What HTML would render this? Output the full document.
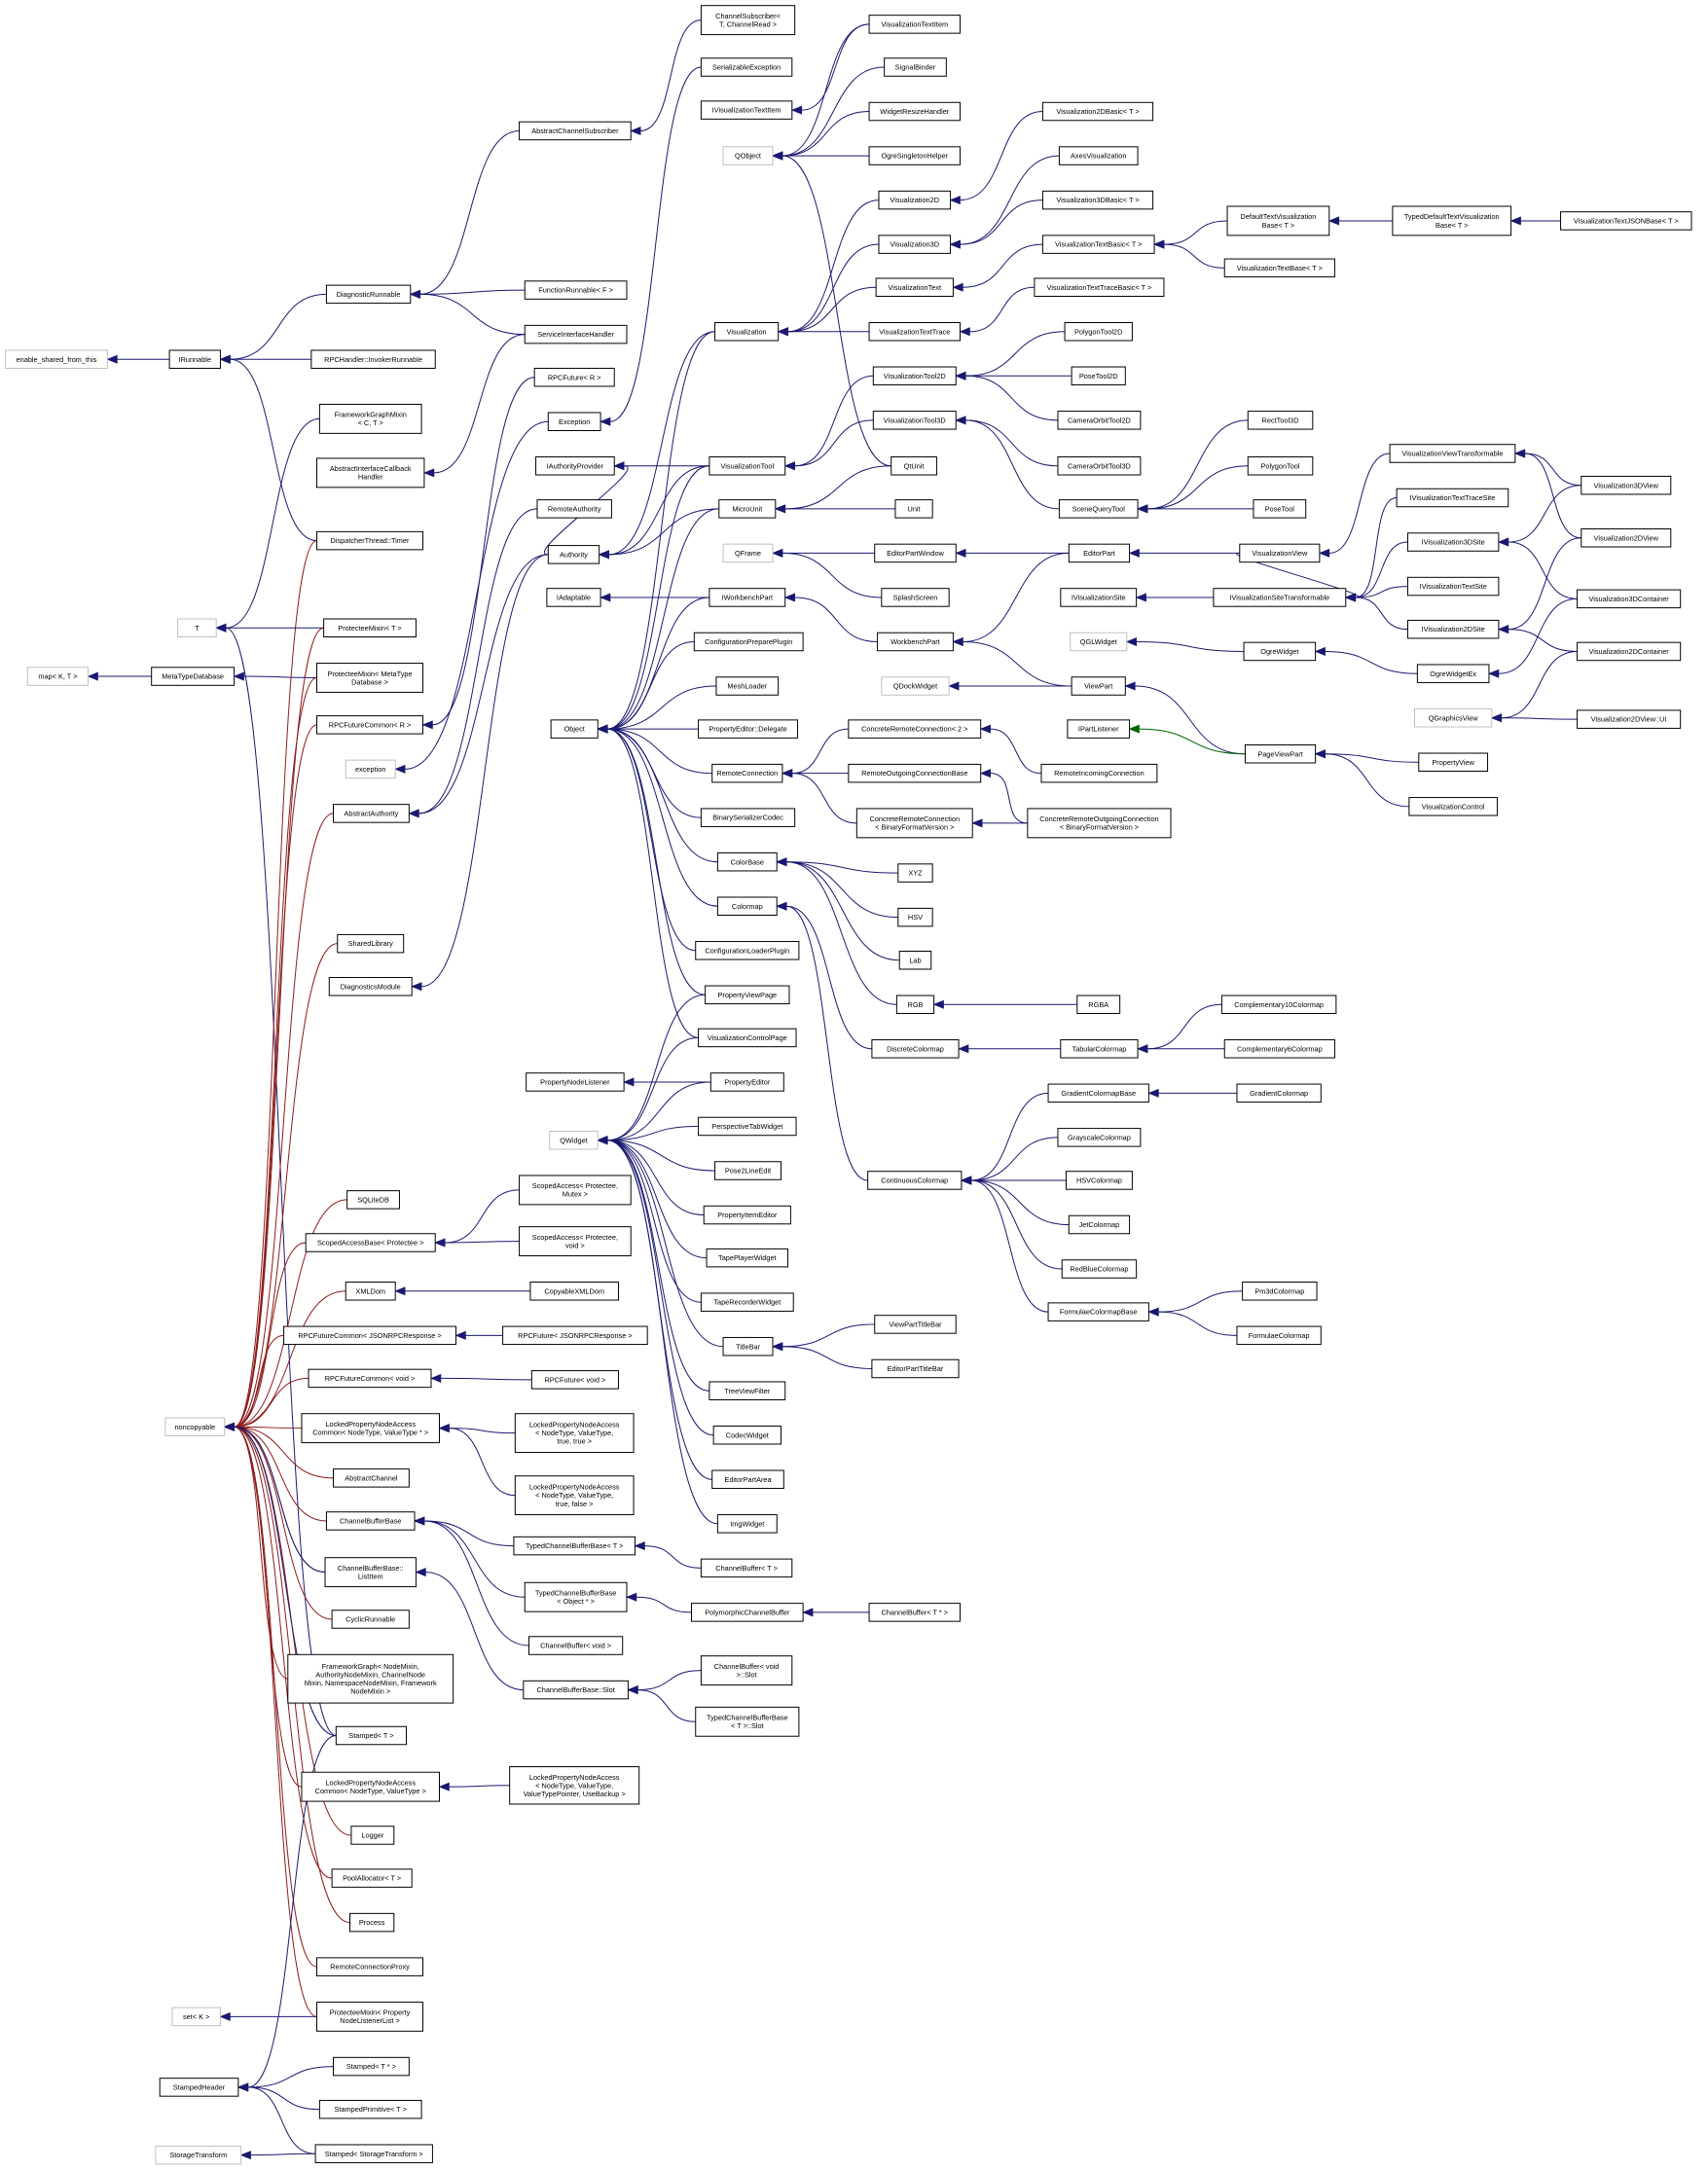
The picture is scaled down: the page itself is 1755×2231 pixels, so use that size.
<!DOCTYPE html>
<html><head><meta charset="utf-8"><style>
html,body{margin:0;padding:0;background:#fff;}
svg{display:block;}
text{font-family:"Liberation Sans",sans-serif;font-size:5.2px;fill:#000;}
</style></head><body>
<svg id="g" xmlns="http://www.w3.org/2000/svg" width="1755" height="2231" viewBox="0 0 1240 1568" preserveAspectRatio="none"></svg>
<script>
var N={};
function n(id,x1,y1,x2,y2,lines,gray){N[id]={x1:x1,y1:y1,x2:x2,y2:y2,l:lines,g:gray};}
n('esft',4,253,78,266,['enable_shared_from_this'],1);
n('IR',123,253,160,266,['IRunnable']);
n('map',20,482,64,495,['map< K, T >'],1);
n('MTD',110,482,170,495,['MetaTypeDatabase']);
n('T',129,447,157,460,['T'],1);
n('nc',120,1024,163,1037,['noncopyable'],1);
n('setK',125,1450,160,1463,['set< K >'],1);
n('SH',116,1501,173,1514,['StampedHeader']);
n('ST',113,1550,175,1563,['StorageTransform'],1);
n('DR',237,206,298,219,['DiagnosticRunnable']);
n('RPCH',226,253,316,266,['RPCHandler::InvokerRunnable']);
n('FGM',232,292,306,313,['FrameworkGraphMixin','< C, T >']);
n('AICH',230,331,308,352,['AbstractInterfaceCallback','Handler']);
n('DTT',230,384,307,397,['DispatcherThread::Timer']);
n('PMT',235,447,302,460,['ProtecteeMixin< T >']);
n('PMM',230,479,307,500,['ProtecteeMixin< MetaType','Database >']);
n('RFCR',230,517,307,530,['RPCFutureCommon< R >']);
n('exc',251,549,287,562,['exception'],1);
n('AA',242,581,297,594,['AbstractAuthority']);
n('SL',245,675,293,688,['SharedLibrary']);
n('DM',239,706,299,719,['DiagnosticsModule']);
n('SQL',252,860,290,873,['SQLiteDB']);
n('SAB',222,891,316,904,['ScopedAccessBase< Protectee >']);
n('XML',251,926,287,939,['XMLDom']);
n('RFCJ',206,958,331,971,['RPCFutureCommon< JSONRPCResponse >']);
n('RFCV',224,989,313,1002,['RPCFutureCommon< void >']);
n('LPC1',219,1021,319,1042,['LockedPropertyNodeAccess','Common< NodeType, ValueType * >']);
n('AC',242,1061,297,1074,['AbstractChannel']);
n('CBB',237,1092,301,1105,['ChannelBufferBase']);
n('CBLI',236,1125,302,1146,['ChannelBufferBase::','ListItem']);
n('CR',241,1163,297,1176,['CyclicRunnable']);
n('FG',209,1195,329,1230,['FrameworkGraph< NodeMixin,','AuthorityNodeMixin, ChannelNode','Mixin, NamespaceNodeMixin, Framework','NodeMixin >']);
n('STT',244,1247,295,1260,['Stamped< T >']);
n('LPC2',219,1280,319,1301,['LockedPropertyNodeAccess','Common< NodeType, ValueType >']);
n('LOG',255,1319,286,1332,['Logger']);
n('PA',241,1350,299,1363,['PoolAllocator< T >']);
n('PROC',254,1382,286,1395,['Process']);
n('RCP',230,1414,307,1427,['RemoteConnectionProxy']);
n('PMP',230,1446,307,1467,['ProtecteeMixin< Property','NodeListenerList >']);
n('STP',242,1486,297,1499,['Stamped< T * >']);
n('SPT',232,1517,306,1530,['StampedPrimitive< T >']);
n('SST',229,1549,314,1562,['Stamped< StorageTransform >']);
n('ACS',377,88,458,101,['AbstractChannelSubscriber']);
n('FR',381,203,455,216,['FunctionRunnable< F >']);
n('SIH',381,235,455,248,['ServiceInterfaceHandler']);
n('RFR',388,266,446,279,['RPCFuture< R >']);
n('EXC',398,298,436,311,['Exception']);
n('IAP',389,330,446,343,['IAuthorityProvider']);
n('RA',390,361,444,374,['RemoteAuthority']);
n('AUTH',398,394,435,407,['Authority']);
n('IAD',397,425,436,438,['IAdaptable']);
n('OBJ',400,520,434,533,['Object']);
n('PNL',382,775,453,788,['PropertyNodeListener']);
n('QW',399,817,434,830,['QWidget'],1);
n('SAM',377,849,458,870,['ScopedAccess< Protectee,','Mutex >']);
n('SAV',377,886,458,907,['ScopedAccess< Protectee,','void >']);
n('CXML',385,926,449,939,['CopyableXMLDom']);
n('RFJ',365,958,470,971,['RPCFuture< JSONRPCResponse >']);
n('RFV',386,990,449,1003,['RPCFuture< void >']);
n('LPTT',374,1021,460,1049,['LockedPropertyNodeAccess','< NodeType, ValueType,','true, true >']);
n('LPTF',374,1066,460,1094,['LockedPropertyNodeAccess','< NodeType, ValueType,','true, false >']);
n('TCBT',373,1110,461,1123,['TypedChannelBufferBase< T >']);
n('TCBO',381,1143,455,1164,['TypedChannelBufferBase','< Object * >']);
n('CBV',384,1182,452,1195,['ChannelBuffer< void >']);
n('CBBS',380,1214,456,1227,['ChannelBufferBase::Slot']);
n('LPVP',370,1276,464,1303,['LockedPropertyNodeAccess','< NodeType, ValueType,','ValueTypePointer, UseBackup >']);
n('CS',509,4,577,25,['ChannelSubscriber<','T, ChannelRead >']);
n('SE',509,42,575,55,['SerializableException']);
n('IVTI',509,73,575,86,['IVisualizationTextItem']);
n('QO',525,106,561,119,['QObject'],1);
n('VIS',519,233,565,246,['Visualization']);
n('VT',515,330,570,343,['VisualizationTool']);
n('MU',522,361,563,374,['MicroUnit']);
n('QF',525,393,561,406,['QFrame'],1);
n('IWP',515,425,570,438,['IWorkbenchPart']);
n('CPP',504,457,583,470,['ConfigurationPreparePlugin']);
n('ML',520,489,565,502,['MeshLoader']);
n('PED',507,520,579,533,['PropertyEditor::Delegate']);
n('RC',517,552,568,565,['RemoteConnection']);
n('BSC',509,584,577,597,['BinarySerializerCodec']);
n('CB',521,616,564,629,['ColorBase']);
n('CM',521,648,564,661,['Colormap']);
n('CLP',505,680,580,693,['ConfigurationLoaderPlugin']);
n('PVP',512,712,573,725,['PropertyViewPage']);
n('VCP',507,743,578,756,['VisualizationControlPage']);
n('PE',516,775,569,788,['PropertyEditor']);
n('PTW',507,807,578,820,['PerspectiveTabWidget']);
n('P2L',519,839,567,852,['Pose2LineEdit']);
n('PIE',511,871,574,884,['PropertyItemEditor']);
n('TPW',513,902,572,915,['TapePlayerWidget']);
n('TRW',509,934,576,947,['TapeRecorderWidget']);
n('TB',525,966,561,979,['TitleBar']);
n('TVF',515,998,570,1011,['TreeViewFilter']);
n('CW',518,1030,567,1043,['CodecWidget']);
n('EPA',517,1062,569,1075,['EditorPartArea']);
n('IW',521,1094,564,1107,['ImgWidget']);
n('CBT',509,1126,575,1139,['ChannelBuffer< T >']);
n('PCB',502,1158,583,1171,['PolymorphicChannelBuffer']);
n('CBVS',509,1196,575,1217,['ChannelBuffer< void','>::Slot']);
n('TCBS',505,1233,580,1254,['TypedChannelBufferBase','< T >::Slot']);
n('VTI',631,11,697,24,['VisualizationTextItem']);
n('SB',642,42,687,55,['SignalBinder']);
n('WRH',631,74,697,87,['WidgetResizeHandler']);
n('OSH',631,106,697,119,['OgreSingletonHelper']);
n('V2D',638,138,690,151,['Visualization2D']);
n('V3D',638,170,690,183,['Visualization3D']);
n('VTX',636,201,692,214,['VisualizationText']);
n('VTT',631,233,697,246,['VisualizationTextTrace']);
n('VT2',634,265,694,278,['VisualizationTool2D']);
n('VT3',634,297,694,310,['VisualizationTool3D']);
n('QTU',647,330,680,343,['QtUnit']);
n('UNIT',650,361,677,374,['Unit']);
n('EPW',635,393,694,406,['EditorPartWindow']);
n('SS',640,425,689,438,['SplashScreen']);
n('WP',637,457,692,470,['WorkbenchPart']);
n('QDW',640,489,689,502,['QDockWidget'],1);
n('CRC2',616,520,712,533,['ConcreteRemoteConnection< 2 >']);
n('ROCB',616,552,712,565,['RemoteOutgoingConnectionBase']);
n('CRCB',622,584,706,605,['ConcreteRemoteConnection','< BinaryFormatVersion >']);
n('XYZ',652,624,677,637,['XYZ']);
n('HSV',652,656,677,669,['HSV']);
n('LAB',653,687,676,700,['Lab']);
n('RGB',651,719,678,732,['RGB']);
n('DCM',633,751,696,764,['DiscreteColormap']);
n('CCM',630,846,698,859,['ContinuousColormap']);
n('VPTB',635,950,694,963,['ViewPartTitleBar']);
n('EPTB',633,982,696,995,['EditorPartTitleBar']);
n('CBTP',631,1158,697,1171,['ChannelBuffer< T * >']);
n('V2B',757,74,837,87,['Visualization2DBasic< T >']);
n('AXV',769,106,826,119,['AxesVisualization']);
n('V3B',757,138,837,151,['Visualization3DBasic< T >']);
n('VTB',757,170,838,183,['VisualizationTextBasic< T >']);
n('VTTB',751,201,845,214,['VisualizationTextTraceBasic< T >']);
n('PT2',773,233,822,246,['PolygonTool2D']);
n('PS2',778,265,817,278,['PoseTool2D']);
n('CO2',768,297,828,310,['CameraOrbitTool2D']);
n('CO3',768,330,828,343,['CameraOrbitTool3D']);
n('SQT',769,361,826,374,['SceneQueryTool']);
n('EP',776,393,820,406,['EditorPart']);
n('IVS',770,425,825,438,['IVisualizationSite']);
n('QGL',777,457,818,470,['QGLWidget'],1);
n('VP',778,489,817,502,['ViewPart']);
n('IPL',775,520,820,533,['IPartListener']);
n('RIC',756,552,840,565,['RemoteIncomingConnection']);
n('CROC',746,584,850,605,['ConcreteRemoteOutgoingConnection','< BinaryFormatVersion >']);
n('RGBA',782,719,813,732,['RGBA']);
n('TCM',770,751,826,764,['TabularColormap']);
n('GCB',761,783,834,796,['GradientColormapBase']);
n('GSC',768,815,828,828,['GrayscaleColormap']);
n('HSVC',774,846,822,859,['HSVColormap']);
n('JET',776,878,820,891,['JetColormap']);
n('RBC',771,910,825,923,['RedBlueColormap']);
n('FCB',761,941,834,954,['FormulaeColormapBase']);
n('DTVB',891,149,965,170,['DefaultTextVisualization','Base< T >']);
n('VTXB',889,187,969,200,['VisualizationTextBase< T >']);
n('RT3',906,297,953,310,['RectTool3D']);
n('PLT',906,330,953,343,['PolygonTool']);
n('PST',910,361,948,374,['PoseTool']);
n('VV',900,393,958,406,['VisualizationView']);
n('IVST',881,425,977,438,['IVisualizationSiteTransformable']);
n('OW',903,464,955,477,['OgreWidget']);
n('PVPT',904,538,955,551,['PageViewPart']);
n('C10',887,719,970,732,['Complementary10Colormap']);
n('C6',889,751,969,764,['Complementary6Colormap']);
n('GC',898,783,959,796,['GradientColormap']);
n('PM3',902,926,956,939,['Pm3dColormap']);
n('FC',898,958,959,971,['FormulaeColormap']);
n('TDTV',1011,149,1097,170,['TypedDefaultTextVisualization','Base< T >']);
n('VVT',1009,321,1100,334,['VisualizationViewTransformable']);
n('IVTTS',1014,353,1095,366,['IVisualizationTextTraceSite']);
n('IV3S',1022,385,1088,398,['IVisualization3DSite']);
n('IVTS',1022,417,1088,430,['IVisualizationTextSite']);
n('IV2S',1022,448,1088,461,['IVisualization2DSite']);
n('OWE',1029,480,1081,493,['OgreWidgetEx']);
n('QGV',1027,512,1083,525,['QGraphicsView'],1);
n('PV',1030,544,1080,557,['PropertyView']);
n('VC',1023,576,1087,589,['VisualizationControl']);
n('VJSON',1133,153,1228,166,['VisualizationTextJSONBase< T >']);
n('V3V',1148,344,1213,357,['Visualization3DView']);
n('V2V',1148,382,1213,395,['Visualization2DView']);
n('V3C',1145,426,1220,439,['Visualization3DContainer']);
n('V2C',1145,464,1220,477,['Visualization2DContainer']);
n('V2UI',1145,513,1220,526,['Visualization2DView::UI']);

var B='#191970',R='#8b1a1a',G='#006400';
var E=[];
function e(c,p,col){E.push([c,p,col||B]);}
e('IR','esft');e('DR','IR');e('RPCH','IR');e('DTT','IR');
e('ACS','DR');e('CS','ACS');e('FR','DR');e('SIH','DR');e('SIH','AICH');
e('FGM','T');e('PMT','T');e('STT','T');e('MTD','map');e('PMM','MTD');
e('RFR','RFCR');e('SE','EXC');e('EXC','exc');
e('AUTH','AA');e('RA','AA');e('AUTH','IAP');e('AUTH','DM');
e('VT','IAP');e('VIS','AUTH');e('MU','AUTH');e('VT','AUTH');
e('IWP','IAD');
['VIS','VT','MU','IWP','CPP','ML','PED','RC','BSC','CB','CM','CLP','PVP','VCP'].forEach(function(c){e(c,'OBJ');});
['VTI','SB','WRH','OSH','QTU'].forEach(function(c){e(c,'QO');});
e('VTI','IVTI');
['V2D','V3D','VTX','VTT'].forEach(function(c){e(c,'VIS');});
e('V2B','V2D');e('AXV','V3D');e('V3B','V3D');e('VTB','VTX');e('VTTB','VTT');
e('DTVB','VTB');e('VTXB','VTB');e('TDTV','DTVB');e('VJSON','TDTV');
e('VT2','VT');e('VT3','VT');e('PT2','VT2');e('PS2','VT2');e('CO2','VT2');
e('CO3','VT3');e('SQT','VT3');e('RT3','SQT');e('PLT','SQT');e('PST','SQT');
e('QTU','MU');e('UNIT','MU');
e('EPW','QF');e('SS','QF');e('EP','EPW');e('EP','WP');e('WP','IWP');e('VP','WP');e('VP','QDW');
e('VV','EP');e('PVPT','VP');e('PVPT','IPL',G);e('PV','PVPT');e('VC','PVPT');
e('IVST','IVS');e('VV','IVST');['IV3S','IVTTS','IVTS','IV2S'].forEach(function(c){e(c,'IVST');});
e('VVT','VV');e('V3V','VVT');e('V2V','VVT');e('V3V','IV3S');e('V2V','IV2S');
e('V3C','IV3S');e('V2C','IV2S');e('OW','QGL');e('OWE','OW');e('V3C','OWE');e('V2C','QGV');e('V2UI','QGV');
e('CRC2','RC');e('ROCB','RC');e('CRCB','RC');e('RIC','CRC2');e('CROC','CRCB');e('CROC','ROCB');
['XYZ','HSV','LAB','RGB'].forEach(function(c){e(c,'CB');});e('RGBA','RGB');
e('DCM','CM');e('CCM','CM');e('TCM','DCM');e('C10','TCM');e('C6','TCM');
['GCB','GSC','HSVC','JET','RBC','FCB'].forEach(function(c){e(c,'CCM');});
e('GC','GCB');e('PM3','FCB');e('FC','FCB');
['PVP','VCP','PE','PTW','P2L','PIE','TPW','TRW','TB','TVF','CW','EPA','IW'].forEach(function(c){e(c,'QW');});
e('PE','PNL');e('VPTB','TB');e('EPTB','TB');
['DTT','PMT','PMM','RFCR','AA','SL','SQL','SAB','XML','RFCJ','RFCV','LPC1','AC','CBB','CBLI','CR','FG','LPC2','LOG','PA','PROC','RCP','PMP'].forEach(function(c){e(c,'nc',R);});
e('STT','nc');e('CBLI','nc');
e('SAM','SAB');e('SAV','SAB');e('CXML','XML');e('RFJ','RFCJ');e('RFV','RFCV');
e('LPTT','LPC1');e('LPTF','LPC1');e('LPVP','LPC2');
e('TCBT','CBB');e('TCBO','CBB');e('CBV','CBB');e('CBBS','CBLI');
e('CBT','TCBT');e('PCB','TCBO');e('CBTP','PCB');e('CBVS','CBBS');e('TCBS','CBBS');
e('PMP','setK');e('STP','SH');e('SPT','SH');e('SST','SH');e('SST','ST');e('STT','SH');

var s='';
E.forEach(function(a){
  var c=N[a[0]],p=N[a[1]];if(!c||!p)return;
  var sx=c.x1,sy=(c.y1+c.y2)/2,ex=p.x2,ey=(p.y1+p.y2)/2;
  var dx=Math.max(20,(sx-ex)*0.5);
  var tx=ex+7,ty=ey;
  s+='<path d="M'+sx+','+sy+' C'+(sx-dx)+','+sy+' '+(tx+dx)+','+ty+' '+tx+','+ty+'" fill="none" stroke="'+a[2]+'" stroke-width="0.7"/>';
  s+='<polygon points="'+ex+','+ey+' '+(ex+7)+','+(ey-2.8)+' '+(ex+7)+','+(ey+2.8)+'" fill="'+a[2]+'" stroke="'+a[2]+'" stroke-width="0.5"/>';
});
for(var k in N){var o=N[k];
  s+='<rect x="'+o.x1+'" y="'+o.y1+'" width="'+(o.x2-o.x1)+'" height="'+(o.y2-o.y1)+'" fill="#fff" stroke="'+(o.g?'#bfbfbf':'#000')+'" stroke-width="0.7"/>';
  var cx=(o.x1+o.x2)/2,cy=(o.y1+o.y2)/2,L=o.l.length;
  o.l.forEach(function(t,i){var y=cy+(i-(L-1)/2)*6+1.8;
    s+='<text x="'+cx+'" y="'+y+'" text-anchor="middle">'+t.replace(/</g,'&lt;').replace(/>/g,'&gt;')+'</text>';});
}
document.getElementById('g').innerHTML=s;
</script>
</body></html>
